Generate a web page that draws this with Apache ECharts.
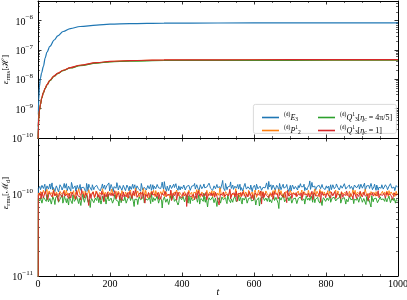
<!DOCTYPE html>
<html><head><meta charset="utf-8">
<script src="https://cdn.jsdelivr.net/npm/echarts@6/dist/echarts.min.js"></script>
<style>html,body{margin:0;padding:0;background:#fff}#c{width:407px;height:300px}</style>
</head><body><div id="c"></div>
<script>
// ---------- data ----------
const seriesNames = ['E3', 'P2', 'Q45', 'Q1'];
const colors = ['#1f77b4', '#ff7f0e', '#2ca02c', '#d62728'];

// top panel: eps_rms[H] vs t
const tH = [0, 1, 2, 4, 7, 10, 15, 20, 25, 33, 45, 55, 70, 90, 117, 163, 200, 255, 350, 500, 700, 1000];
const hE3 = [2.5e-11, 6.3e-10, 2.0e-9, 5.6e-9, 1.12e-8, 1.66e-8, 2.75e-8, 5.4e-8, 8.5e-8, 1.32e-7, 2.19e-7, 3.02e-7, 4.27e-7, 5.37e-7, 6.31e-7, 7.08e-7, 7.59e-7, 7.94e-7, 8.22e-7, 8.32e-7, 8.36e-7, 8.38e-7];
const hP2 = [3.9e-11, 2.45e-10, 4.45e-10, 8.8e-10, 1.4e-9, 2.22e-9, 3.5e-9, 4.95e-9, 6.5e-9, 9.2e-9, 1.3e-8, 1.6e-8, 2.02e-8, 2.48e-8, 2.98e-8, 3.66e-8, 4.0e-8, 4.3e-8, 4.5e-8, 4.56e-8, 4.6e-8, 4.62e-8];
const hQ45 = [3.8e-11, 2.4e-10, 4.4e-10, 8.7e-10, 1.38e-9, 2.19e-9, 3.47e-9, 4.9e-9, 6.4e-9, 9.0e-9, 1.28e-8, 1.57e-8, 1.98e-8, 2.43e-8, 2.92e-8, 3.58e-8, 3.92e-8, 4.2e-8, 4.38e-8, 4.44e-8, 4.46e-8, 4.47e-8];
const hQ1 = [4.0e-11, 2.5e-10, 4.5e-10, 8.9e-10, 1.41e-9, 2.24e-9, 3.55e-9, 5.0e-9, 6.6e-9, 9.3e-9, 1.32e-8, 1.62e-8, 2.04e-8, 2.51e-8, 3.02e-8, 3.72e-8, 4.07e-8, 4.37e-8, 4.57e-8, 4.62e-8, 4.66e-8, 4.68e-8];

// bottom panel: eps_rms[M_d] in units of 1e-12.
// "A" arrays: first value at t=0, then t = 1, 5, 9, ...; "B" arrays: t = 3, 7, 11, ...
const mUnit = 1e-12;
const mE3A = [0.1,
118,125,112,130,121,109,127,116,134,120,113,128,119,124,107,131,122,115,136,118,
111,126,120,140,117,123,109,129,114,132,121,118,127,106,124,133,119,112,128,122,
116,135,120,110,125,118,130,113,121,138,115,124,108,127,119,131,117,122,112,129,
123,116,134,110,126,120,118,131,114,125,121,109,137,119,124,113,128,117,132,120,
115,126,111,130,122,118,141,116,123,109,129,120,126,114,133,118,121,112,127,124,
117,130,113,125,119,135,110,122,128,116,131,119,107,126,120,134,115,123,118,129,
121,112,127,117,132,120,124,110,148,119,136,114,122,126,118,130,111,125,120,116,
133,121,109,127,123,118,131,115,124,120,129,113,137,119,126,112,122,128,117,125,
144,120,114,130,123,118,127,110,125,121,133,116,124,119,108,129,122,131,117,126,
113,120,135,118,124,111,128,121,130,115,140,119,126,112,123,129,117,132,120,114,
127,122,109,131,118,125,116,134,121,113,128,119,124,138,115,122,130,117,126,111,
129,120,123,116,133,119,125,112,127,121,118,136,114,124,120,130,113,126,119,128,
117,131,122,110,125,134,118,123,115,127];
const mE3B = [
122,114,129,118,133,111,125,120,116,138,121,108,127,123,117,131,113,126,119,135,
116,124,110,130,121,127,115,133,119,112,128,122,117,136,109,125,120,131,114,126,
129,118,123,112,134,120,115,127,121,110,132,117,124,119,139,113,128,122,116,125,
111,130,119,126,115,133,121,108,127,118,124,136,113,122,129,117,125,120,112,131,
126,117,132,120,114,128,123,143,119,126,111,130,118,124,121,135,116,127,113,122,
120,133,115,124,129,112,126,121,136,118,123,110,131,117,125,120,114,128,137,119,
125,118,130,113,121,127,116,134,120,111,129,123,117,142,122,115,126,119,132,118,
112,127,121,136,116,124,119,130,108,125,121,133,117,123,129,114,126,120,138,115,
123,131,117,125,112,129,120,136,114,127,119,124,132,118,121,110,130,116,125,122,
128,115,124,119,133,121,113,127,146,118,123,130,112,125,120,134,117,122,129,113,
119,126,121,114,131,117,124,139,120,112,127,122,135,116,123,129,118,125,113,130,
124,118,132,110,126,121,137,115,123,128,117,125,120,133,112,127,122,118,131,116,
121,129,114,126,135,119,124,111,128,122];
const mP2A = [0.1,
104,97,110,92,106,100,115,95,103,108,90,112,99,105,94,109,101,96,113,102,
98,107,93,111,104,89,106,100,117,97,103,109,92,105,99,114,96,102,108,91,
110,101,95,106,99,112,94,104,88,107,100,116,97,103,109,93,105,98,111,102,
96,108,91,104,113,99,106,95,101,110,92,107,100,118,97,103,90,109,104,98,
112,94,105,101,96,108,99,115,93,106,102,97,110,91,104,100,113,95,107,99,
103,96,111,94,105,108,100,89,106,102,114,97,104,92,109,101,98,112,95,107,
100,93,110,104,97,106,120,99,103,91,108,102,96,111,94,105,100,117,98,104,
92,109,101,95,107,103,112,97,100,90,106,104,99,113,96,102,108,94,110,101,
97,105,93,111,100,104,98,115,95,107,102,91,109,103,96,112,99,105,101,94,
108,100,97,113,92,106,103,99,110,95,104,101,116,98,107,93,102,109,96,105,
100,111,94,103,108,97,105,92,110,101,99,114,95,106,102,98,109,93,104,100,
112,96,107,101,94,105,99,115,97,103,91,108,100,106,95,111,102,98,104,109,
96,103,110,94,101,107,99,105,92,100];
const mP2B = [
99,108,95,112,101,105,93,110,98,104,116,96,107,102,91,109,100,106,97,113,
104,94,108,101,111,96,103,99,115,92,106,100,109,97,104,112,95,107,101,98,
110,93,105,102,117,99,106,94,108,103,97,111,100,105,92,109,102,96,114,101,
107,98,104,110,95,103,100,119,97,106,93,108,101,104,112,96,105,99,109,94,
102,111,97,106,100,113,95,104,108,98,103,90,110,101,107,96,115,99,105,102,
94,108,103,97,112,100,106,95,109,104,99,114,92,107,101,105,98,110,96,103,
111,100,95,108,104,97,113,101,106,93,109,102,98,116,100,105,94,107,103,99,
106,97,112,101,104,95,109,100,107,98,113,92,105,102,110,96,104,99,108,101,
95,109,103,98,114,100,106,97,111,94,105,102,108,99,104,117,96,107,101,103,
110,98,105,93,108,102,99,112,96,106,101,104,95,109,100,115,97,103,107,98,
104,95,110,101,97,106,113,99,103,94,108,100,105,111,96,102,107,98,114,101,
97,106,102,109,93,104,100,112,98,105,96,110,101,103,108,95,106,99,104,100,
107,98,103,111,96,105,101,94,109,102];
const mQ45A = [0.1,
88,83,94,79,91,86,99,81,89,76,93,85,90,97,80,87,92,78,95,84,
89,74,91,86,98,82,88,93,77,90,85,101,80,87,94,83,69,89,92,81,
86,95,79,90,84,88,97,76,91,83,87,93,80,99,85,89,72,92,86,82,
94,78,88,91,84,96,81,87,90,75,93,86,83,100,79,89,85,92,77,88,
91,84,87,95,80,90,68,86,93,82,88,79,96,85,91,83,87,74,94,89,
82,90,86,97,78,88,92,84,81,95,87,90,76,89,85,103,80,91,83,88,
86,93,79,90,71,87,94,82,89,85,91,77,96,84,88,80,92,86,83,98,
87,81,90,85,94,78,89,92,83,86,97,74,88,91,80,87,93,84,90,82,
95,86,79,89,84,92,88,67,91,85,99,81,87,90,83,94,78,88,86,92,
80,89,93,84,87,76,95,85,90,82,88,101,79,86,92,84,89,73,91,87,
83,94,86,80,90,88,97,82,85,91,78,89,93,84,87,81,95,86,90,77,
92,85,88,83,96,80,89,87,94,82,86,70,91,88,84,93,79,90,86,89,
85,92,81,88,95,83,87,90,78,86];
const mQ45B = [
85,91,78,93,87,82,96,80,89,84,92,75,88,94,81,86,99,83,90,79,
87,93,84,77,91,86,95,82,89,73,92,85,88,98,80,87,83,94,79,90,
84,89,92,76,95,83,88,86,100,81,90,78,87,93,85,82,96,79,89,84,
91,80,86,94,83,88,71,92,87,85,97,82,90,79,88,93,84,86,102,81,
89,83,95,78,91,86,84,93,80,88,75,90,85,97,82,87,92,79,89,86,
94,81,88,83,96,77,90,85,87,92,80,99,84,89,82,86,93,70,91,85,
88,95,80,87,84,91,78,93,86,89,82,97,85,79,90,88,94,81,87,83,
92,76,89,86,98,82,88,91,79,85,93,84,87,72,90,86,95,80,88,84,
81,90,87,94,83,89,78,92,85,88,96,80,86,91,84,99,82,87,90,77,
89,85,93,81,88,72,91,86,84,95,80,89,87,92,83,78,94,86,88,82,
90,84,97,79,87,92,83,88,85,101,81,86,91,76,89,84,93,82,88,87,
85,91,80,94,86,83,89,75,92,87,84,96,81,88,90,79,86,93,85,88,
82,90,87,95,79,89,84,92,86,83];
const mQ1A = [0.1,
97,104,88,101,93,110,96,85,103,99,92,107,95,100,82,105,98,91,112,96,
101,89,106,94,99,103,87,108,97,93,115,100,90,104,96,73,102,98,107,92,
95,103,99,86,109,97,101,93,106,90,98,104,95,111,88,100,96,102,84,107,
99,93,105,97,101,89,110,96,103,92,98,106,94,100,78,104,97,102,91,108,
96,101,93,105,99,87,103,97,109,94,100,95,113,90,102,98,85,106,96,101,
92,104,98,71,107,95,100,93,103,97,89,110,96,102,94,105,99,86,101,97,
104,91,99,106,95,100,88,103,97,108,93,101,96,116,90,99,104,95,82,102,
98,94,107,100,92,103,96,110,89,101,97,105,93,99,102,76,106,95,100,97,
91,104,98,87,108,96,101,94,103,99,92,106,97,112,95,100,89,103,98,105,
94,101,97,86,107,99,103,93,100,96,109,91,104,98,95,102,80,106,97,100,
93,105,99,90,103,96,108,94,101,97,88,104,100,95,110,98,92,102,96,106,
99,89,104,97,101,93,107,95,100,84,103,98,105,92,99,96,111,94,101,97,
103,90,106,98,95,101,87,104,99,96];
const mQ1B = [
100,94,107,91,103,97,86,105,99,93,110,96,102,88,104,98,92,108,95,101,
97,103,90,106,99,94,112,96,100,85,105,98,93,107,101,96,89,103,99,95,
108,92,101,97,104,81,106,98,94,102,96,109,91,100,97,105,87,103,99,93,
104,98,90,107,95,101,97,113,92,99,103,88,106,96,100,94,105,91,102,98,
93,106,99,87,104,97,101,92,109,95,100,98,84,103,96,107,93,101,99,90,
105,96,102,91,108,98,94,100,86,104,97,111,93,99,102,95,106,89,101,97,
96,103,92,105,99,74,101,97,107,94,100,96,104,88,102,98,93,109,95,100,
103,90,106,97,101,93,108,96,99,85,104,98,102,94,110,96,91,103,97,100,
99,94,105,92,101,97,88,106,99,103,95,100,79,104,96,102,93,107,98,94,
101,97,104,90,108,95,99,103,92,100,86,105,97,101,94,109,96,99,102,91,
104,98,93,107,96,101,89,103,99,95,106,92,100,97,112,94,102,98,87,105,
97,101,94,108,99,92,103,96,100,85,106,98,95,102,97,104,91,100,99,96,
102,95,107,93,100,98,88,104,97,101];

// axes (exponents of 10)
const xTicks = [0, 200, 400, 600, 800, 1000];
const yTopRange = [-10, -5.33];
const yBotRange = [-11, -9.31];
const yTicksTop = [-10, -9, -8, -7, -6];
const yTicksBot = [-11, -10];

// ---------- chart ----------
const FONT = '"Liberation Serif", "DejaVu Serif", serif';
const BLACK = '#000';

function minorLog(r) {
  const out = [];
  for (let n = Math.floor(r[0]); n <= Math.ceil(r[1]); n++) {
    for (let k = 2; k <= 9; k++) {
      const v = n + Math.log10(k);
      if (v > r[0] && v < r[1]) out.push(v);
    }
  }
  return out;
}

const grids = [
  { left: 38, right: 9, top: 1, height: 137, containLabel: false, outerBoundsMode: 'none' },
  { left: 38, right: 9, top: 138, height: 138, containLabel: false, outerBoundsMode: 'none' }
];

function xAx(gi, pos, labels) {
  return {
    type: 'value', gridIndex: gi, position: pos, min: 0, max: 1000, interval: 200,
    axisLine: { show: true, onZero: false, lineStyle: { color: BLACK, width: 1 } },
    axisTick: { show: true, inside: true, length: 3.5, customValues: xTicks, lineStyle: { color: BLACK, width: 0.8 } },
    minorTick: { show: true, splitNumber: 4, length: 2, lineStyle: { color: BLACK, width: 0.6 } },
    splitLine: { show: false },
    axisLabel: { show: labels, customValues: xTicks, formatter: v => String(v), fontFamily: FONT, fontSize: 10, color: BLACK, margin: 3 },
    name: labels ? 't' : '', nameLocation: 'middle', nameGap: 11, nameMoveOverlap: false,
    nameTextStyle: { fontFamily: FONT, fontStyle: 'italic', fontSize: 10, color: BLACK }
  };
}

const yRich = {
  b: { fontFamily: FONT, fontSize: 10, color: BLACK, lineHeight: 13, verticalAlign: 'bottom' },
  s: { fontFamily: FONT, fontSize: 7, color: BLACK, lineHeight: 8, verticalAlign: 'top' }
};

function yAx(gi, pos, range, ticks, minor, label, name, nameOpt) {
  const vals = minor ? minorLog(range) : ticks;
  const o = {
    type: 'value', gridIndex: gi, position: pos, min: range[0], max: range[1],
    axisLine: { show: !minor, onZero: false, lineStyle: { color: BLACK, width: 1 } },
    axisTick: { show: true, inside: true, length: minor ? 2 : 3.5, customValues: vals, lineStyle: { color: BLACK, width: minor ? 0.6 : 0.8 } },
    splitLine: { show: false },
    axisLabel: { show: label, customValues: ticks, margin: 5,
      formatter: v => '{b|10}{s|\u2212' + Math.round(-v) + '}', rich: yRich }
  };
  if (name) {
    o.name = name; o.nameLocation = 'middle'; o.nameGap = 26; o.nameRotate = 90;
    o.nameMoveOverlap = false;
    o.nameTextStyle = { fontFamily: FONT, fontSize: 9, color: BLACK, rich: nameOpt.rich, padding: nameOpt.padding || 0 };
  }
  return o;
}

const nameRichBase = {
  e: { fontFamily: FONT, fontStyle: 'italic', fontSize: 9, color: BLACK, lineHeight: 12 },
  sub: { fontFamily: FONT, fontSize: 6.5, color: BLACK, lineHeight: 7, verticalAlign: 'bottom' },
  n: { fontFamily: FONT, fontSize: 9, color: BLACK, lineHeight: 12 }
};

const xAxes = [xAx(0, 'bottom', false), xAx(0, 'top', false), xAx(1, 'bottom', true), xAx(1, 'top', false)];
const yAxes = [
  yAx(0, 'left', yTopRange, yTicksTop, false, true, '{e|\u03b5}{sub|rms}{n|[\u210b]}', { rich: nameRichBase }),
  yAx(0, 'left', yTopRange, yTicksTop, true, false),
  yAx(0, 'right', yTopRange, yTicksTop, false, false),
  yAx(0, 'right', yTopRange, yTicksTop, true, false),
  yAx(1, 'left', yBotRange, yTicksBot, false, true, '{e|\u03b5}{sub|rms}{n|[\u2133}{sub|d}{n|]}', { rich: nameRichBase, padding: [0, 0, 0, 28] }),
  yAx(1, 'left', yBotRange, yTicksBot, true, false),
  yAx(1, 'right', yBotRange, yTicksBot, false, false),
  yAx(1, 'right', yBotRange, yTicksBot, true, false)
];

function mergeM(a, b) {
  const out = [[0, Math.log10(a[0] * mUnit)]];
  for (let i = 1; i < a.length; i++) {
    out.push([4 * i - 3, Math.log10(a[i] * mUnit)]);
    if (i - 1 < b.length) out.push([4 * i - 1, Math.log10(b[i - 1] * mUnit)]);
  }
  return out;
}

const hData = [hE3, hP2, hQ45, hQ1];
const mData = [[mE3A, mE3B], [mP2A, mP2B], [mQ45A, mQ45B], [mQ1A, mQ1B]];
const series = [];
hData.forEach((arr, si) => {
  series.push({
    type: 'line', name: seriesNames[si], xAxisIndex: 0, yAxisIndex: 0,
    data: tH.map((t, i) => [t, Math.log10(arr[i])]),
    showSymbol: false, symbol: 'none', smooth: 0.35, smoothMonotone: 'x',
    lineStyle: { color: colors[si], width: 1.2 }, itemStyle: { color: colors[si] },
    z: 2 + si, silent: true
  });
});
mData.forEach((pair, si) => {
  series.push({
    type: 'line', name: seriesNames[si], xAxisIndex: 2, yAxisIndex: 4,
    data: mergeM(pair[0], pair[1]),
    showSymbol: false, symbol: 'none',
    lineStyle: { color: colors[si], width: 1, opacity: 0.95 }, itemStyle: { color: colors[si] },
    z: 2 + si, silent: true
  });
});

const legRich = {
  n: { fontFamily: FONT, fontSize: 8, color: '#000', lineHeight: 11 },
  i: { fontFamily: FONT, fontStyle: 'italic', fontSize: 8, color: '#000', lineHeight: 11 },
  s: { fontFamily: FONT, fontSize: 5.5, color: '#000', lineHeight: 6, verticalAlign: 'top' },
  b: { fontFamily: FONT, fontSize: 5.5, color: '#000', lineHeight: 6, verticalAlign: 'bottom' }
};
const legLabels = {
  E3: '{s|(d)}{i|E}{b|3}',
  P2: '{s|(d)}{i|P}{s|1}{b|2}',
  Q45: '{s|(d)}{i|Q}{s|1}{b|3}{n|[}{i|\u03b7}{b|c}{n| = 4\u03c0/5]}',
  Q1: '{s|(d)}{i|Q}{s|1}{b|3}{n|[}{i|\u03b7}{b|c}{n| = 1]}'
};
function legend(data, left) {
  return {
    data: data, orient: 'vertical', left: left, top: 107, itemWidth: 17, itemHeight: 1.6,
    icon: 'rect', itemGap: 2, selectedMode: false, z: 6,
    formatter: n => legLabels[n],
    textStyle: { rich: legRich, fontFamily: FONT, fontSize: 8, padding: [0, 0, 0, 0] }
  };
}

const chart = echarts.init(document.getElementById('c'), null, { renderer: 'canvas' });
chart.setOption({
  animation: false,
  backgroundColor: '#fff',
  grid: grids,
  xAxis: xAxes,
  yAxis: yAxes,
  legend: [legend(['E3', 'P2'], 257), legend(['Q45', 'Q1'], 313)],
  graphic: [{
    type: 'rect', left: 253, top: 104, z: 5,
    shape: { width: 143, height: 29, r: 2 },
    style: { fill: 'rgba(255,255,255,0.85)', stroke: '#d0d0d0', lineWidth: 0.8 }
  }],
  series: series
});
</script>
</body></html>
